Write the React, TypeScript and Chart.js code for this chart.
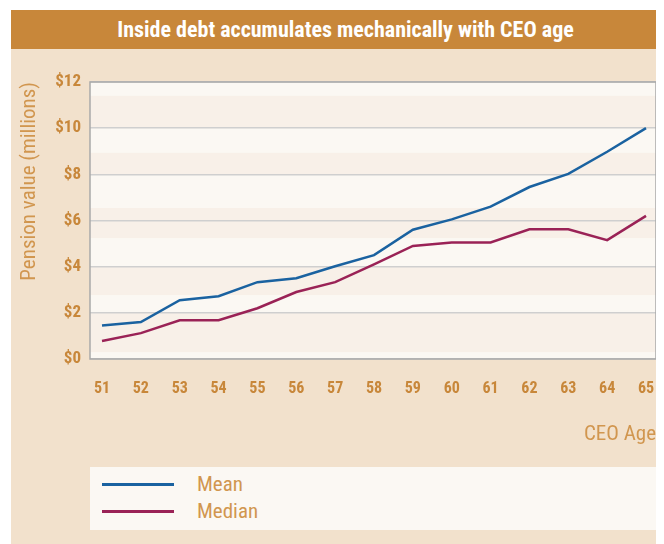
import React, { useEffect, useRef } from "react";
import { Chart, registerables } from "chart.js";

Chart.register(...registerables);

const ages = [51, 52, 53, 54, 55, 56, 57, 58, 59, 60, 61, 62, 63, 64, 65];
const meanValues = [1.45, 1.6, 2.55, 2.72, 3.33, 3.5, 4.02, 4.5, 5.6, 6.05, 6.6, 7.45, 8.02, 8.98, 10.0];
const medianValues = [0.78, 1.12, 1.68, 1.68, 2.2, 2.9, 3.33, 4.1, 4.9, 5.05, 5.05, 5.62, 5.62, 5.15, 6.2];
const yTicks = [0, 2, 4, 6, 8, 10, 12];
const darkBands: [number, number][] = [
  [10.0, 11.4],
  [8.0, 8.93],
  [5.24, 6.54],
  [2.77, 4.0],
  [0.3, 2.0],
];

const TITLE = "Inside debt accumulates mechanically with CEO age";
const FONT = "Roboto, 'Open Sans', sans-serif";
const ORANGE = "#C8873A";
const LIGHT_ORANGE = "#D1964F";
const MEAN_COLOR = "#1A62A0";
const MEDIAN_COLOR = "#9A2256";

const bandPlugin = {
  id: "bands",
  beforeDraw(chart: any) {
    const { ctx, chartArea, scales } = chart;
    const y = scales.y;
    ctx.save();
    ctx.fillStyle = "#FBF8F3";
    ctx.fillRect(chartArea.left, chartArea.top, chartArea.right - chartArea.left, chartArea.bottom - chartArea.top);
    ctx.fillStyle = "#F8F0E8";
    for (const [a, b] of darkBands) {
      const y1 = y.getPixelForValue(b);
      const y2 = y.getPixelForValue(a);
      ctx.fillRect(chartArea.left, y1, chartArea.right - chartArea.left, y2 - y1);
    }
    ctx.restore();
  },
  afterDatasetsDraw(chart: any) {
    const { ctx, chartArea } = chart;
    ctx.save();
    ctx.strokeStyle = "#A9A9A9";
    ctx.lineWidth = 1.5;
    ctx.strokeRect(chartArea.left, chartArea.top, chartArea.right - chartArea.left, chartArea.bottom - chartArea.top);
    ctx.restore();
  },
};

function LineChart() {
  const ref = useRef<HTMLCanvasElement | null>(null);
  useEffect(() => {
    if (!ref.current) return;
    const chart = new Chart(ref.current, {
      type: "line",
      data: {
        datasets: [
          {
            label: "Mean",
            data: ages.map((a, i) => ({ x: a, y: meanValues[i] })),
            borderColor: MEAN_COLOR,
            borderWidth: 2.5,
            pointRadius: 0,
            tension: 0,
          },
          {
            label: "Median",
            data: ages.map((a, i) => ({ x: a, y: medianValues[i] })),
            borderColor: MEDIAN_COLOR,
            borderWidth: 2.5,
            pointRadius: 0,
            tension: 0,
          },
        ],
      },
      options: {
        responsive: false,
        maintainAspectRatio: false,
        animation: false,
        layout: { padding: { left: 6, right: 8, top: 33, bottom: 8 } },
        plugins: { legend: { display: false }, tooltip: { enabled: false }, title: { display: false } },
        scales: {
          x: {
            type: "linear",
            min: 50.691,
            max: 65.257,
            border: { display: false },
            grid: { display: false, drawTicks: false },
            afterBuildTicks: (axis: any) => {
              axis.ticks = ages.map((v) => ({ value: v }));
            },
            afterFit: (s: any) => {
              s.height = 88;
              s.paddingLeft = 0;
              s.paddingRight = 0;
            },
            ticks: {
              padding: 20,
              color: ORANGE,
              font: { family: FONT, size: 16, weight: "bold condensed" },
              callback: (v: any) => String(v),
              maxRotation: 0,
              autoSkip: false,
            },
            title: {
              display: true,
              text: "CEO Age",
              align: "end",
              color: LIGHT_ORANGE,
              font: { family: FONT, size: 21, weight: "400 condensed" },
              padding: { top: 26, bottom: 0 },
            },
          },
          y: {
            min: 0,
            max: 12,
            border: { display: false },
            grid: { color: "#CFCFCF", lineWidth: 1.5, drawTicks: false },
            afterBuildTicks: (axis: any) => {
              axis.ticks = yTicks.map((v) => ({ value: v }));
            },
            afterFit: (s: any) => {
              s.width = 73;
              s.paddingTop = 0;
              s.paddingBottom = 0;
            },
            ticks: {
              padding: 9,
              color: ORANGE,
              font: { family: FONT, size: 17, weight: "bold condensed" },
              callback: (v: any) => "$" + v,
            },
            title: {
              display: true,
              text: "Pension value (millions)",
              align: "end",
              color: LIGHT_ORANGE,
              font: { family: FONT, size: 21, weight: "400 condensed" },
              padding: { top: 0, bottom: 0 },
            },
          },
        },
      },
      plugins: [bandPlugin],
    } as any);
    return () => chart.destroy();
  }, []);
  return <canvas ref={ref} width={653} height={406} style={{ display: "block", width: 653, height: 406 }} />;
}

export default function App() {
  return (
    <div style={{ position: "relative", width: 656, height: 536, fontFamily: FONT }}>
      <div style={{ position: "absolute", left: 3, top: 2, width: 653, height: 534, background: "#F2E1CC" }} />
      <div
        style={{
          position: "absolute",
          left: 3,
          top: 2,
          width: 653,
          height: 39,
          background: ORANGE,
          color: "#FFFFFF",
          fontWeight: "bold",
          fontStretch: "condensed",
          fontSize: 22,
          lineHeight: "39px",
          textAlign: "center",
          boxSizing: "border-box",
          paddingLeft: 16,
        }}
      >
        {TITLE}
      </div>
      <div style={{ position: "absolute", left: 3, top: 41 }}>
        <LineChart />
      </div>
      <div style={{ position: "absolute", left: 82, top: 459, width: 569, height: 63, background: "#FBF8F3" }}>
        {[
          { label: "Mean", color: MEAN_COLOR, y: 17 },
          { label: "Median", color: MEDIAN_COLOR, y: 44 },
        ].map((it) => (
          <div key={it.label}>
            <div style={{ position: "absolute", left: 12, top: it.y - 1.5, width: 72, height: 3, background: it.color }} />
            <div
              style={{
                position: "absolute",
                left: 107,
                top: it.y - 12,
                height: 24,
                lineHeight: "24px",
                fontSize: 21,
                fontWeight: 400,
                fontStretch: "condensed",
                color: LIGHT_ORANGE,
              }}
            >
              {it.label}
            </div>
          </div>
        ))}
      </div>
    </div>
  );
}
